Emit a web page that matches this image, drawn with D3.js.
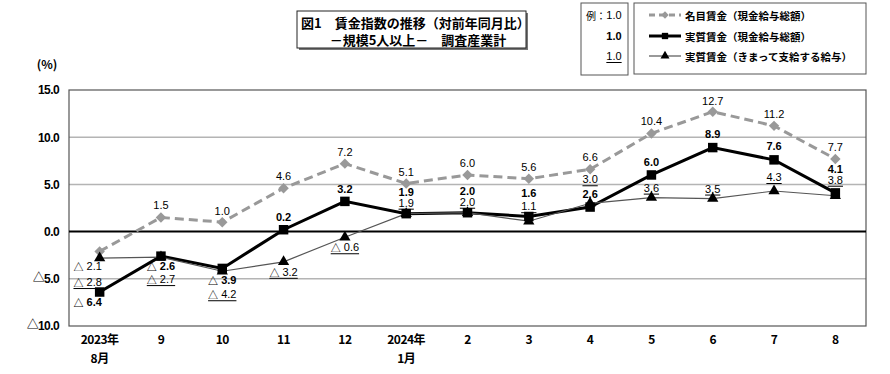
<!DOCTYPE html>
<html>
	<head>
		<meta http-equiv="Content-Type" content="text/html;charset=utf-8"/>
		<title>賃金指数の推移</title>
		<script type="text/javascript" src="https://cdn.jsdelivr.net/npm/d3@7"></script>
		<style type="text/css">
			body { margin: 0; background: #fff; }
			svg text { font-family: "Noto Sans CJK JP", "Liberation Sans", sans-serif; }
			.num { font-family: "Liberation Sans Narrow", "Liberation Sans", sans-serif; font-size: 11px; }
			.tri { font-family: "Noto Sans CJK JP", sans-serif; font-size: 10px; }
		</style>
	</head>
	<body>
		<script type="text/javascript">

			//Data
			var months = ["2023年|8月", "9", "10", "11", "12", "2024年|1月", "2", "3", "4", "5", "6", "7", "8"];
			var nominal = [-2.1, 1.5, 1.0, 4.6, 7.2, 5.1, 6.0, 5.6, 6.6, 10.4, 12.7, 11.2, 7.7];
			var realTotal = [-6.4, -2.6, -3.9, 0.2, 3.2, 1.9, 2.0, 1.6, 2.6, 6.0, 8.9, 7.6, 4.1];
			var realFixed = [-2.8, -2.7, -4.2, -3.2, -0.6, 1.9, 2.0, 1.1, 3.0, 3.6, 3.5, 4.3, 3.8];
			var yTicks = [-10, -5, 0, 5, 10, 15];

			//Label offsets (pixels from the marker)
			var nomDy = [15, -12, -11, -12, -12, -11, -12, -12, -12, -12, -11, -12, -12];
			var totDy = [10, 10, 12, -13, -12, -22, -22, -23, -13, -13, -14, -14, -24];
			var fixDy = [24, 22, 23, 10, 10, -11, -11, -15, -24, -10, -10, -14, -16];

			var w = 890, h = 374;
			var m = {left: 69, right: 866, top: 90, bottom: 326};

			var svg = d3.select("body").append("svg")
						.attr("width", w)
						.attr("height", h);

			var x = d3.scaleBand()
				.domain(d3.range(months.length))
				.range([m.left, m.right]);
			var cx = function(i) { return x(i) + x.bandwidth() / 2; };

			var y = d3.scaleLinear()
				.domain([-10, 15])
				.range([m.bottom, m.top]);

			//write a value, with the triangle sign for negatives
			function writeNum(sel, v, gap) {
				if (v < 0) {
					sel.append("tspan").attr("class", "tri").text("△");
					sel.append("tspan").text(gap + (-v).toFixed(1));
				} else {
					sel.append("tspan").text(v.toFixed(1));
				}
			}

			//Grid lines
			svg.selectAll("line.grid")
				.data([-5, 5, 10])
				.enter()
				.append("line")
				.attr("x1", m.left).attr("x2", m.right)
				.attr("y1", function(d) { return y(d); })
				.attr("y2", function(d) { return y(d); })
				.attr("stroke", "#b4b4b4")
				.attr("stroke-width", 1.5);

			//Plot frame
			svg.append("rect")
				.attr("x", m.left).attr("y", m.top)
				.attr("width", m.right - m.left)
				.attr("height", m.bottom - m.top)
				.attr("fill", "none")
				.attr("stroke", "#555")
				.attr("stroke-width", 1.2);

			//Zero line
			svg.append("line")
				.attr("x1", m.left).attr("x2", m.right)
				.attr("y1", y(0)).attr("y2", y(0))
				.attr("stroke", "#000")
				.attr("stroke-width", 2);

			//Y axis
			var yAxis = d3.axisLeft(y)
				.tickValues(yTicks)
				.tickSize(0)
				.tickPadding(10)
				.tickFormat("");
			var ya = svg.append("g")
				.attr("transform", "translate(" + m.left + ",0)")
				.call(yAxis);
			ya.select(".domain").remove();
			ya.selectAll("text")
				.style("font-family", "'Liberation Sans', sans-serif")
				.style("font-weight", "bold")
				.style("font-size", "12px")
				.style("letter-spacing", "-0.6px")
				.attr("fill", "#000")
				.each(function(v) {
					var t = d3.select(this);
					if (v < 0) {
						t.append("tspan").attr("class", "tri")
							.attr("dy", "2.8")
							.style("font-size", "12px").style("font-weight", "bold").text("△");
						t.append("tspan").attr("dy", "1").text((-v).toFixed(1));
					} else {
						t.text(v.toFixed(1));
					}
				});

			svg.append("text")
				.attr("x", 47).attr("y", 63)
				.attr("text-anchor", "middle")
				.attr("dominant-baseline", "central")
				.style("font-weight", "bold")
				.style("font-size", "12px")
				.text("(%)");

			//X labels
			var xl = svg.selectAll("text.xl")
				.data(months)
				.enter()
				.append("text")
				.attr("class", "xl")
				.attr("text-anchor", "middle")
				.style("font-weight", "bold")
				.style("font-size", "12px")
				.style("letter-spacing", "-0.5px");
			xl.each(function(d, i) {
				var parts = d.split("|");
				d3.select(this).selectAll("tspan")
					.data(parts)
					.enter()
					.append("tspan")
					.attr("x", cx(i))
					.attr("y", function(p, j) { return 344 + j * 19; })
					.text(function(p) { return p; });
			});

			//Lines
			var line = function(vals) {
				return d3.line()
					.x(function(d, i) { return cx(i); })
					.y(function(d) { return y(d); })(vals);
			};

			svg.append("path")
				.attr("d", line(nominal))
				.attr("fill", "none")
				.attr("stroke", "#999")
				.attr("stroke-width", 3)
				.attr("stroke-dasharray", "9,5");

			svg.append("path")
				.attr("d", line(realTotal))
				.attr("fill", "none")
				.attr("stroke", "#000")
				.attr("stroke-width", 3);

			svg.append("path")
				.attr("d", line(realFixed))
				.attr("fill", "none")
				.attr("stroke", "#555")
				.attr("stroke-width", 1.2);

			//Markers
			var diamond = d3.symbol().type(d3.symbolDiamond2).size(70);
			var square = d3.symbol().type(d3.symbolSquare).size(90);
			var triangle = d3.symbol().type(d3.symbolTriangle).size(55);

			function markers(vals, sym, color) {
				svg.append("g").selectAll("path")
					.data(vals)
					.enter()
					.append("path")
					.attr("d", sym)
					.attr("fill", color)
					.attr("transform", function(d, i) {
						return "translate(" + cx(i) + "," + y(d) + ")";
					});
			}
			markers(nominal, diamond, "#999");
			markers(realTotal, square, "#000");
			markers(realFixed, triangle, "#000");

			//Data labels
			function labels(vals, dy, weight, underline) {
				svg.append("g").selectAll("text")
					.data(vals)
					.enter()
					.append("text")
					.attr("class", "num")
					.attr("x", function(d, i) { return i === 0 ? cx(i) - 12 : cx(i); })
					.attr("y", function(d, i) { return y(d) + dy[i]; })
					.attr("text-anchor", "middle")
					.attr("dominant-baseline", "central")
					.style("font-weight", weight)
					.attr("fill", "#000")
					.each(function(d, i) {
						writeNum(d3.select(this), d, " ");
						if (!underline) return;
						var b = this.getBBox();
						var ly = y(d) + dy[i] + 6.5;
						svg.append("line")
							.attr("x1", b.x).attr("x2", b.x + b.width)
							.attr("y1", ly)
							.attr("y2", ly)
							.attr("stroke", "#000")
							.attr("stroke-width", 1);
					});
			}
			labels(nominal, nomDy, "normal", false);
			labels(realTotal, totDy, "bold", false);
			labels(realFixed, fixDy, "normal", true);

			//Title box
			svg.append("rect")
				.attr("x", 299).attr("y", 13)
				.attr("width", 229).attr("height", 37)
				.attr("fill", "#777");
			svg.append("rect")
				.attr("x", 297).attr("y", 11)
				.attr("width", 229).attr("height", 37)
				.attr("fill", "#fff")
				.attr("stroke", "#222")
				.attr("stroke-width", 1);
			svg.append("text")
				.attr("x", 301).attr("y", 22)
				.attr("dominant-baseline", "central")
				.style("font-weight", "bold")
				.style("font-size", "13px")
				.text("図1　賃金指数の推移（対前年同月比）");
			svg.append("text")
				.attr("x", 418).attr("y", 39)
				.attr("text-anchor", "middle")
				.attr("dominant-baseline", "central")
				.style("font-weight", "bold")
				.style("font-size", "13px")
				.text("－規模5人以上－　調査産業計");

			//Example box
			svg.append("rect")
				.attr("x", 581).attr("y", 3)
				.attr("width", 47).attr("height", 72)
				.attr("fill", "none")
				.attr("stroke", "#555");
			svg.append("text")
				.attr("x", 586).attr("y", 15)
				.attr("dominant-baseline", "central")
				.style("font-size", "10px")
				.text("例：");
			var ex = [{t: "1.0", w: "normal", u: false, y: 15, x: 614},
				{t: "1.0", w: "bold", u: false, y: 36, x: 614},
				{t: "1.0", w: "normal", u: true, y: 56, x: 614}];
			ex.forEach(function(e) {
				var t = svg.append("text")
					.attr("class", "num")
					.attr("x", e.x).attr("y", e.y)
					.attr("text-anchor", "middle")
					.attr("dominant-baseline", "central")
					.style("font-weight", e.w)
					.text(e.t);
				if (e.u) {
					var b = t.node().getBBox();
					svg.append("line")
						.attr("x1", b.x).attr("x2", b.x + b.width)
						.attr("y1", e.y + 6.5).attr("y2", e.y + 6.5)
						.attr("stroke", "#000");
				}
			});

			//Legend
			svg.append("rect")
				.attr("x", 634).attr("y", 3)
				.attr("width", 232).attr("height", 71)
				.attr("fill", "none")
				.attr("stroke", "#555");
			var leg = [
				{name: "名目賃金（現金給与総額）", color: "#999", width: 3, dash: "6,4", sym: diamond, mc: "#999", y: 15},
				{name: "実質賃金（現金給与総額）", color: "#000", width: 3, dash: null, sym: square, mc: "#000", y: 36},
				{name: "実質賃金（きまって支給する給与）", color: "#555", width: 1.2, dash: null, sym: triangle, mc: "#000", y: 56}
			];
			leg.forEach(function(l) {
				svg.append("line")
					.attr("x1", 649).attr("x2", 681)
					.attr("y1", l.y).attr("y2", l.y)
					.attr("stroke", l.color)
					.attr("stroke-width", l.width)
					.attr("stroke-dasharray", l.dash);
				svg.append("path")
					.attr("d", l.sym.size(l.sym === square ? 40 : 35)())
					.attr("fill", l.mc)
					.attr("transform", "translate(665," + l.y + ")");
				svg.append("text")
					.attr("x", 685).attr("y", l.y)
					.attr("dominant-baseline", "central")
					.style("font-weight", "bold")
					.style("font-size", "10.5px")
					.text(l.name);
			});

		</script>
	</body>
</html>
